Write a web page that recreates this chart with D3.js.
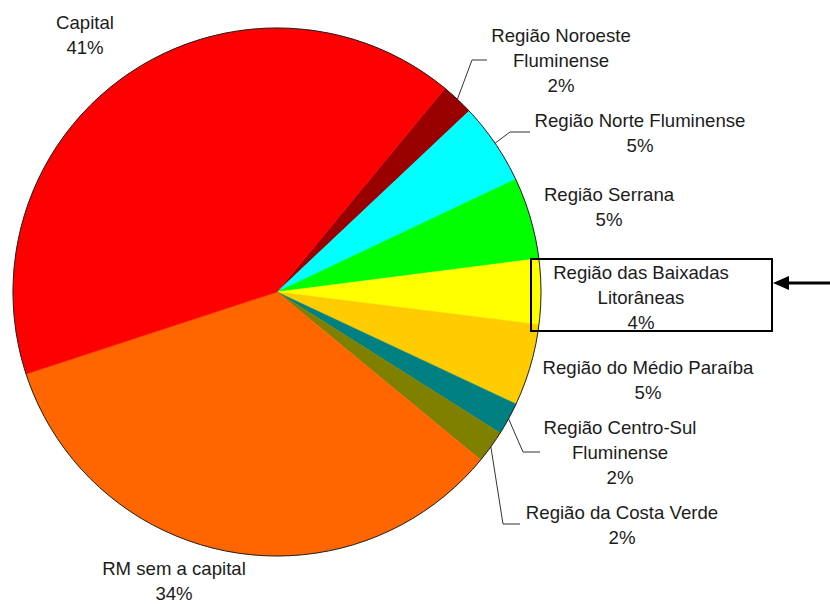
<!DOCTYPE html>
<html>
<head>
<meta charset="utf-8">
<script src="https://cdn.jsdelivr.net/npm/d3@7/dist/d3.min.js"></script>
<style>
  html, body { margin: 0; padding: 0; background: #fff; }
  svg { display: block; }
  text { font-family: "Liberation Sans", Arial, sans-serif; font-size: 18.6px; fill: #1c1c1c; }
</style>
</head>
<body>
<svg id="chart" width="830" height="604"></svg>
<script>
// Share of each region of the state of Rio de Janeiro (percent)
const regions = [
  "Região Noroeste Fluminense",
  "Região Norte Fluminense",
  "Região Serrana",
  "Região das Baixadas Litorâneas",
  "Região do Médio Paraíba",
  "Região Centro-Sul Fluminense",
  "Região da Costa Verde",
  "RM sem a capital",
  "Capital"
];
const shares = [2, 5, 5, 4, 5, 2, 2, 34, 41];
const colors = ["#990000", "#00FFFF", "#00FF00", "#FFFF00", "#FFCC00", "#008080", "#808000", "#FF6600", "#FF0000"];
// Label text split into lines
const labelLines = [
  ["Região Noroeste", "Fluminense"],
  ["Região Norte Fluminense"],
  ["Região Serrana"],
  ["Região das Baixadas", "Litorâneas"],
  ["Região do Médio Paraíba"],
  ["Região Centro-Sul", "Fluminense"],
  ["Região da Costa Verde"],
  ["RM sem a capital"],
  ["Capital"]
];

// Layout: label centre (x, first-line y) and optional leader elbow / end
const labelLayout = [
  { x: 561, y: 35, elbow: [472, 60], end: [487, 60] },
  { x: 640, y: 120, elbow: [510, 132], end: [530, 132] },
  { x: 609, y: 194 },
  { x: 641, y: 272 },
  { x: 648, y: 367 },
  { x: 620, y: 427, elbow: [523, 452], end: [540, 452] },
  { x: 622, y: 512, elbow: [503, 524], end: [520, 524] },
  { x: 174, y: 568 },
  { x: 85, y: 22 }
];
const lineHeight = 25;

const svg = d3.select("#chart");
const cx = 277, cy = 292, radius = 264;
const g = svg.append("g").attr("transform", `translate(${cx},${cy})`);

const data = regions.map((name, i) => ({ name, value: shares[i], color: colors[i], lines: labelLines[i], layout: labelLayout[i] }));

const startDeg = 39.5;
const pie = d3.pie()
  .sort(null)
  .value(d => d.value)
  .startAngle(startDeg * Math.PI / 180)
  .endAngle((startDeg + 360) * Math.PI / 180);

const arcs = pie(data);
const arc = d3.arc().innerRadius(0).outerRadius(radius);

g.selectAll("path.slice")
  .data(arcs)
  .join("path")
  .attr("class", "slice")
  .attr("d", arc)
  .attr("fill", d => d.data.color)
  .attr("stroke", d => d.data.color)
  .attr("stroke-width", 0.5);

// thin outline around the pie
g.append("circle")
  .attr("r", radius)
  .attr("fill", "none")
  .attr("stroke", "#222")
  .attr("stroke-width", 1);

// leader lines
const edgePoint = d => {
  const a = (d.startAngle + d.endAngle) / 2;
  return [cx + radius * Math.sin(a), cy - radius * Math.cos(a)];
};
svg.selectAll("polyline.leader")
  .data(arcs.filter(d => d.data.layout.elbow))
  .join("polyline")
  .attr("class", "leader")
  .attr("points", d => [edgePoint(d), d.data.layout.elbow, d.data.layout.end].map(p => p.join(",")).join(" "))
  .attr("fill", "none")
  .attr("stroke", "#333")
  .attr("stroke-width", 1);

// labels: name lines followed by the percentage
const labels = svg.selectAll("text.label")
  .data(arcs)
  .join("text")
  .attr("class", "label")
  .attr("text-anchor", "middle");

labels.each(function(d) {
  const t = d3.select(this);
  const lines = d.data.lines.concat([d.data.value + "%"]);
  lines.forEach((ln, i) => {
    t.append("tspan")
      .attr("x", d.data.layout.x)
      .attr("y", d.data.layout.y + i * lineHeight)
      .attr("dy", "0.35em")
      .text(ln);
  });
});

// highlight box around the Baixadas Litorâneas label with an arrow pointing to it
svg.append("rect")
  .attr("x", 531).attr("y", 259)
  .attr("width", 241).attr("height", 72)
  .attr("fill", "none")
  .attr("stroke", "#000")
  .attr("stroke-width", 2);

svg.append("line")
  .attr("x1", 786).attr("y1", 283)
  .attr("x2", 830).attr("y2", 283)
  .attr("stroke", "#000")
  .attr("stroke-width", 3);
svg.append("path")
  .attr("d", "M773,283 L789,276 L789,290 Z")
  .attr("fill", "#000");
</script>
</body>
</html>
